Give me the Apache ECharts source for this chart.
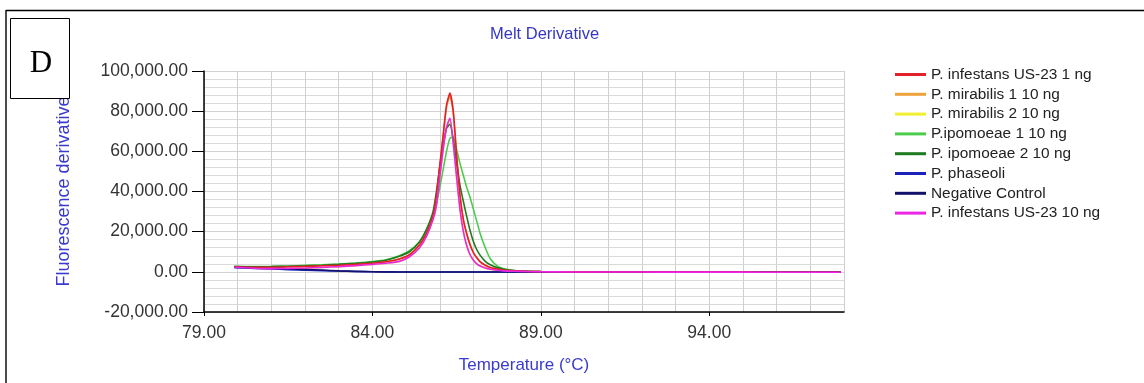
<!DOCTYPE html>
<html><head><meta charset="utf-8">
<script src="https://cdn.jsdelivr.net/npm/echarts@6/dist/echarts.min.js"></script>
<style>html,body{margin:0;padding:0;background:#fff;}#c{width:1144px;height:383px;}</style>
</head><body><div id="c"></div>
<script>
// Temperatures (°C) at which the curves are sampled
const temps = [79.9,80.5,81.0,81.5,82.0,82.5,83.0,83.5,84.0,84.4,84.8,85.1,85.4,85.6,85.8,85.9,86.0,86.1,86.2,86.3,86.4,86.5,86.6,86.7,86.8,86.9,87.0,87.1,87.2,87.35,87.5,87.7,87.9,88.2,88.6,89.0,90.0,91.0,92.0,93.0,94.0,95.0,96.0,97.0,97.9];

const seriesNames = ['P. infestans US-23 1 ng','P. mirabilis 1 10 ng','P. mirabilis 2 10 ng','P.ipomoeae 1 10 ng','P. ipomoeae 2 10 ng','P. phaseoli','Negative Control','P. infestans US-23 10 ng'];
const seriesColors = ['#e4202a','#eea23a','#f2ee30','#4ccc4c','#1e7a1e','#1a22b8','#12126a','#ec26e4'];

const infestans1ng   = [2500,2300,2300,2500,2700,3000,3300,3700,4300,5000,6400,8500,13500,19000,28000,38000,53000,68000,83000,89000,80000,58000,38000,26000,19000,13500,9500,7000,5000,3300,2200,1400,900,500,250,100,0,-100,-100,-150,-150,-150,-200,-200,-200];
const mirabilis1     = [2500,2300,2300,2500,2700,3000,3300,3700,4300,5000,6400,8400,13300,18800,27800,37500,52500,67500,82000,87500,79000,57500,37800,25800,18800,13400,9400,6900,5000,3300,2200,1400,900,500,250,100,0,-100,-100,-150,-150,-150,-200,-200,-200];
const mirabilis2     = [2300,1800,1600,1700,1900,2200,2600,3100,3700,4300,5200,7500,12000,17500,26000,33000,47000,61000,71500,76000,63500,46500,30800,19800,12900,8400,5700,4000,2900,1900,1300,800,500,300,150,50,-50,-100,-100,-150,-150,-150,-200,-200,-200];
const ipomoeae1      = [2700,2600,2700,2900,3200,3500,3900,4400,5100,6000,8000,10500,15000,20000,27500,34000,42000,51000,60000,66500,67000,61000,54000,48000,42000,37000,31000,25000,19000,12000,6500,3000,1500,700,300,100,0,-100,-100,-150,-150,-150,-200,-200,-200];
const ipomoeae2      = [2600,2500,2600,2800,3000,3300,3700,4200,4900,5800,7800,10000,15000,21000,30000,40000,52000,63000,71500,73500,66000,54000,43000,35000,27500,20500,15000,11000,8200,5200,3500,2100,1300,700,300,100,0,-100,-100,-150,-150,-150,-200,-200,-200];
const phaseoli       = [2100,1700,1400,1100,800,600,400,200,50,0,-50,-50,-100,-100,-100,-100,-100,-100,-100,-100,-100,-100,-100,-100,-100,-100,-100,-100,-100,-100,-100,-100,-100,-100,-100,-100,-100,-100,-150,-150,-150,-150,-200,-200,-200];
const negControl     = [2300,2000,1800,1500,1200,900,500,250,50,-50,-100,-100,-100,-100,-100,-100,-100,-100,-100,-100,-100,-100,-100,-100,-100,-100,-100,-100,-100,-100,-100,-100,-100,-100,-100,-100,-100,-100,-150,-150,-150,-150,-200,-200,-200];
const infestans10ng  = [2300,1800,1600,1700,1900,2200,2600,3100,3700,4300,5200,7500,12000,17500,26000,33000,47000,61000,72000,76500,64000,47000,31000,20000,13000,8500,5800,4000,2900,1900,1300,800,500,300,150,50,-50,-100,-100,-150,-150,-150,-200,-200,-200];

const seriesValues = [infestans1ng, mirabilis1, mirabilis2, ipomoeae1, ipomoeae2, phaseoli, negControl, infestans10ng];
const seriesZ = [3,1,1,2,2,2,2,4];

const xTickValues = [79,84,89,94];
const xMin = 79, xMax = 98, xGridStep = 1;
const yMin = -20000, yMax = 100000, yStep = 20000;

function fmtY(v){
  const s = Math.abs(v).toFixed(2);
  const parts = s.split('.');
  return (v<0?'-':'') + parts[0].replace(/\B(?=(\d{3})+(?!\d))/g, ',') + '.' + parts[1];
}

const chart = echarts.init(document.getElementById('c'), null, {renderer:'canvas'});
const FONT = '"Liberation Sans", Arial, sans-serif';
chart.setOption({
  animation:false,
  backgroundColor:'#fff',
  textStyle:{fontFamily:FONT},
  title:{text:'Melt Derivative', left:485, top:21, textStyle:{color:'#3535c8', fontSize:16.5, fontWeight:'normal', fontFamily:FONT}},
  grid:{left:204, right:300, top:71, bottom:71, containLabel:false},
  legend:{
    orient:'vertical', left:890, top:61, icon:'rect', itemWidth:31, itemHeight:3, itemGap:2.8,
    textStyle:{fontSize:15.4, color:'#222', lineHeight:17, fontFamily:FONT},
    data:seriesNames
  },
  xAxis:[{
    // grid-line axis (every 1 °C)
    type:'value', min:xMin, max:xMax, interval:xGridStep, position:'bottom',
    axisLine:{show:false}, axisTick:{show:false}, axisLabel:{show:false},
    splitLine:{show:true, lineStyle:{color:'#cfcfcf', width:1}}
  },{
    // labelled axis
    type:'value', min:xMin, max:xMax, interval:xGridStep, position:'bottom', offset:0,
    name:'Temperature (°C)', nameLocation:'middle', nameGap:45,
    nameTextStyle:{color:'#3a3ad0', fontSize:17, fontFamily:FONT},
    axisLine:{show:true, onZero:false, lineStyle:{color:'#000', width:1.5}},
    axisTick:{show:true, customValues:xTickValues, length:4, lineStyle:{color:'#000'}},
    axisLabel:{customValues:xTickValues, formatter:v=>v.toFixed(2), margin:12, fontSize:17.5, color:'#333', fontFamily:FONT},
    splitLine:{show:false}
  }],
  yAxis:{
    type:'value', min:yMin, max:yMax, interval:yStep,
    name:'Fluorescence derivative', nameLocation:'middle', nameGap:131,
    nameTextStyle:{color:'#3a3ad0', fontSize:18, fontFamily:FONT},
    axisLine:{show:true, onZero:false, lineStyle:{color:'#000', width:1.5}},
    axisTick:{show:true, length:12, lineStyle:{color:'#000'}},
    axisLabel:{formatter:fmtY, margin:16, fontSize:17.5, color:'#333', fontFamily:FONT},
    splitLine:{show:true, lineStyle:{color:'#d2d2d2', width:1}},
    minorTick:{show:false, splitNumber:5},
    minorSplitLine:{show:true, lineStyle:{color:'#dadada', width:1}}
  },
  series: seriesNames.map((n,i)=>({
    name:n, type:'line', xAxisIndex:0, showSymbol:false, symbol:'none', smooth:0.2, z:seriesZ[i],
    color:seriesColors[i],
    lineStyle:{color:seriesColors[i], width:1.6},
    data: temps.map((t,k)=>[t, seriesValues[i][k]])
  })),
  graphic:[
    {type:'line', z:100, shape:{x1:6, y1:10.5, x2:1144, y2:10.5}, style:{stroke:'#000', lineWidth:1.4}},
    {type:'line', z:100, shape:{x1:6, y1:10, x2:6, y2:383}, style:{stroke:'#000', lineWidth:1.4}},
    {type:'rect', z:100, shape:{x:10.5, y:18.5, width:59, height:80}, style:{fill:'#fff', stroke:'#000', lineWidth:1}},
    {type:'text', z:101, x:41, y:64, style:{text:'D', font:'31px "Liberation Serif", "Times New Roman", serif', fill:'#000', align:'center', verticalAlign:'middle'}}
  ]
});
</script></body></html>
